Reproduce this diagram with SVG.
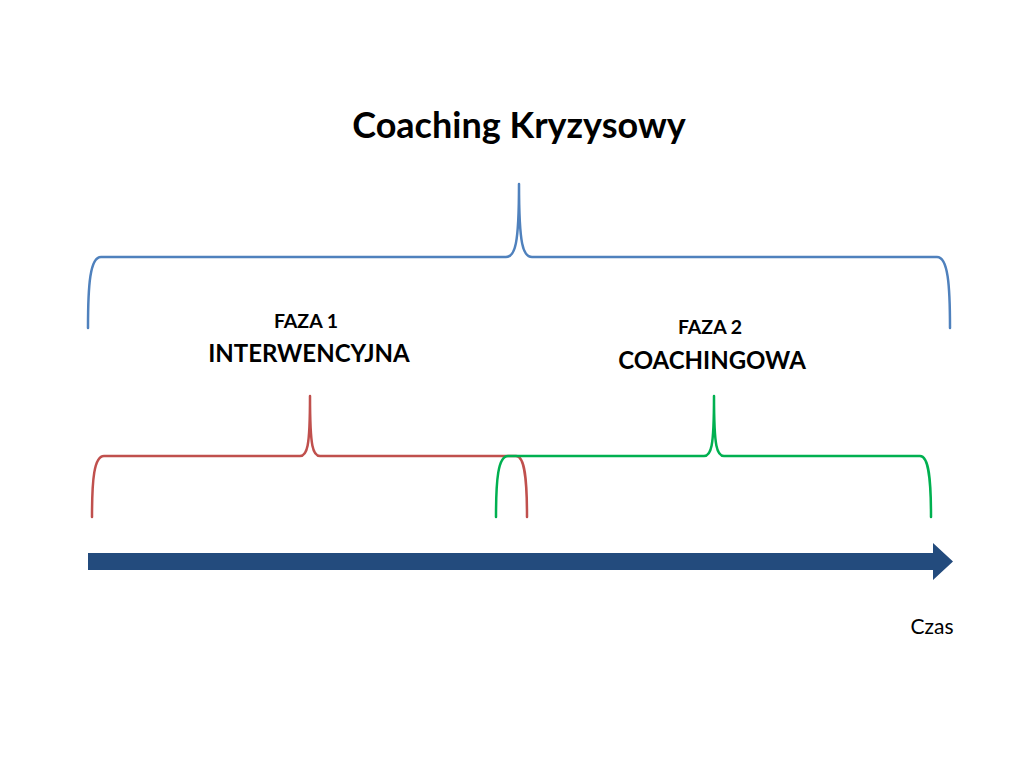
<svg xmlns="http://www.w3.org/2000/svg" width="1024" height="768" viewBox="0 0 1024 768">
<style>
.t{font-family:Lato,"Open Sans","Liberation Sans",sans-serif;font-weight:bold;fill:#000;text-anchor:middle}
.b{fill:none;stroke-width:2.5;stroke-linecap:round;stroke-linejoin:round}
</style>
<rect width="1024" height="768" fill="#fff"/>
<g id="title"><text class="t" x="519" y="138" font-size="36">Coaching Kryzysowy</text></g>
<g id="faza1"><text class="t" x="306" y="328" font-size="19.5">FAZA 1</text><text class="t" x="309" y="362" font-size="24">INTERWENCYJNA</text></g>
<g id="faza2"><text class="t" x="710" y="334" font-size="19.5">FAZA 2</text><text class="t" x="712" y="369" font-size="24">COACHINGOWA</text></g>
<g id="connectors">
<path class="b" stroke="#4F81BD" d="M88,328 C88,285 90,257 101,257 L506,257 C515,257 519,245 519,184 C519,245 523,257 532,257 L937,257 C948,257 950,285 950,328"/>
<path class="b" stroke="#C0504D" d="M92,517 C92,480 94,456 104,456 L300,456 C307,456 310,448 310,396 C310,448 313,456 320,456 L516,456 C525,456 527,480 527,517"/>
<path class="b" stroke="#00B050" d="M496,517 C496,480 498,456 508,456 L704,456 C711,456 714,448 714,396 C714,448 717,456 724,456 L920,456 C929,456 931,480 931,517"/>
</g>
<g id="axis">
<polygon fill="#234B7D" points="88,553 933,553 933,543 953,561.5 933,580 933,570 88,570"/>
<text x="932" y="634" font-family="Lato,'Open Sans','Liberation Sans',sans-serif" font-size="21" text-anchor="middle" fill="#000">Czas</text>
</g>
</svg>
